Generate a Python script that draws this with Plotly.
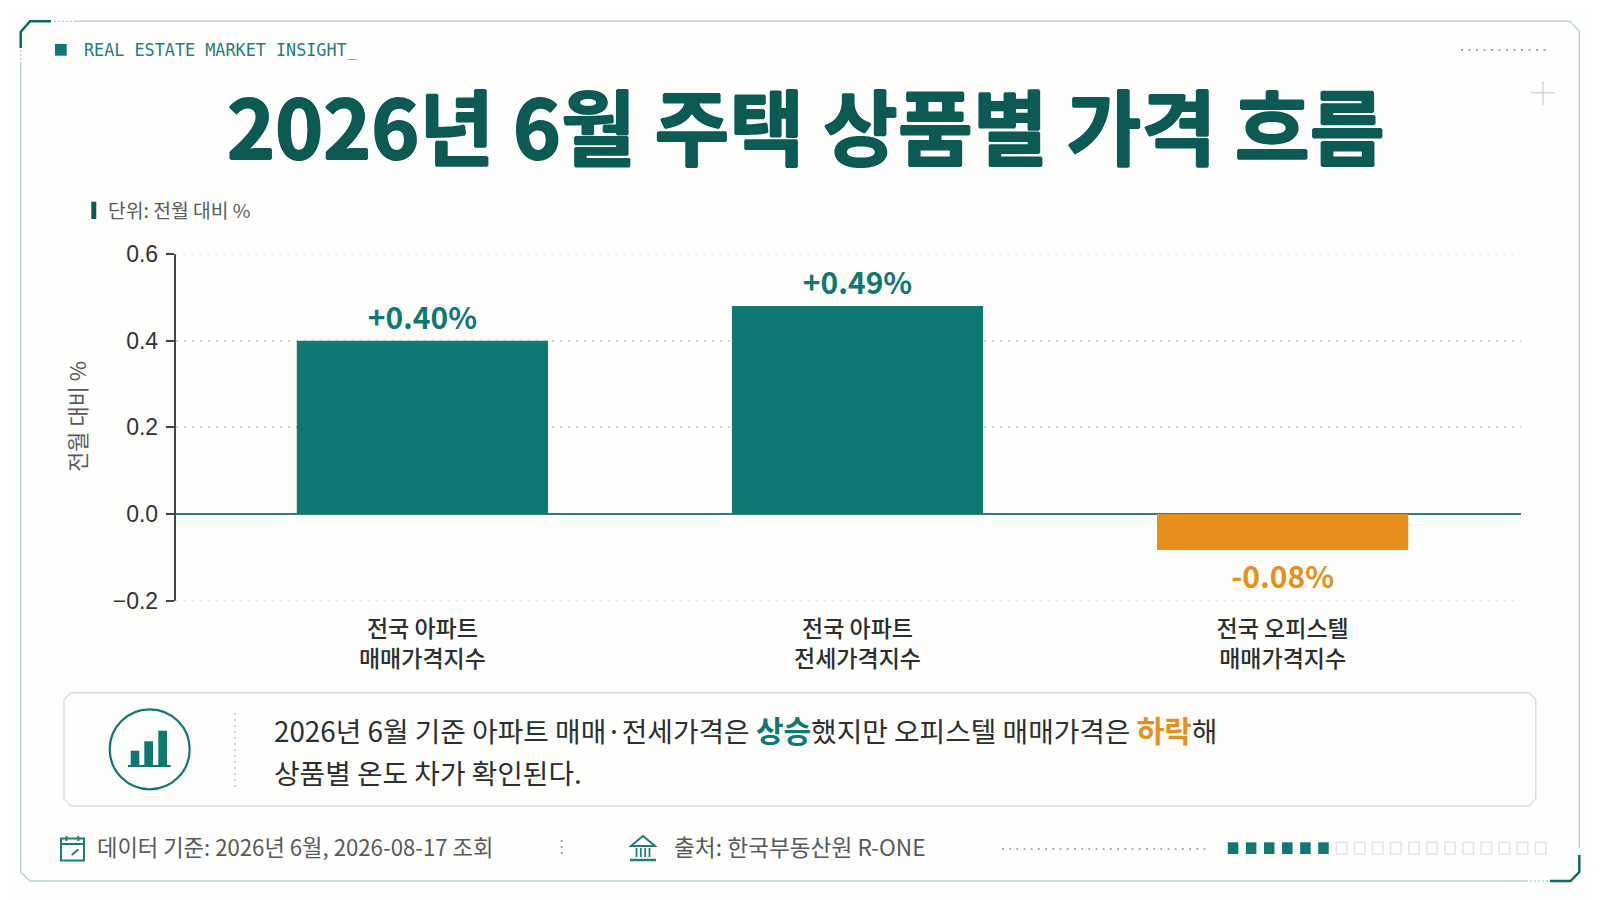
"""2026년 6월 주택 상품별 가격 흐름: 전월 대비 bar chart with a framed report layout."""
import plotly.graph_objects as go

# Data
CATEGORIES = ['전국 아파트<br>매매가격지수', '전국 아파트<br>전세가격지수', '전국 오피스텔<br>매매가격지수']
BAR_VALUES = [0.40, 0.48, -0.083]
BAR_LABELS = ['+0.40%', '+0.49%', '-0.08%']
Y_TICKS = [-0.2, 0.0, 0.2, 0.4, 0.6]

# Texts
HEADER = 'REAL ESTATE MARKET INSIGHT_'
TITLE = '2026년 6월 주택 상품별 가격 흐름'
UNIT = '단위: 전월 대비 %'
Y_TITLE = '전월 대비 %'
FOOT_DATE = '데이터 기준: 2026년 6월, 2026-08-17 조회'
FOOT_SOURCE = '출처: 한국부동산원 R-ONE'

# Styling constants
PAGE_INSET = 8  # the browser's default body margin
W, H = 1600 - PAGE_INSET, 900 - PAGE_INSET
FONT = 'Noto Sans CJK KR'
BG = '#fefefd'
TEAL = '#0f7872'
TEAL_DARK = '#0b5a54'
ORANGE = '#e68f1c'
INK = '#2b2f2f'
GRAY = '#555a5a'
FRAME = '#b7d5d1'
BOX = '#d9dddc'
GRID = '#cfd2d2'


def fx(x):
    return (x - PAGE_INSET) / W


def fy(y):
    return 1 - (y - PAGE_INSET) / H


def poly(points, close=False):
    path = 'M ' + ' L '.join(f'{fx(x):.5f},{fy(y):.5f}' for x, y in points)
    return path + (' Z' if close else '')


def line_shape(points, color, width=1.5, dash=None, close=False):
    return dict(type='path', xref='paper', yref='paper', path=poly(points, close),
                line=dict(color=color, width=width, dash=dash))


def rect_shape(x0, y0, x1, y1, fill=None, color=None, width=0):
    return dict(type='rect', xref='paper', yref='paper', x0=fx(x0), x1=fx(x1), y0=fy(y0), y1=fy(y1),
                fillcolor=fill or 'rgba(0,0,0,0)', line=dict(color=color or 'rgba(0,0,0,0)', width=width))


def label(x, y, text, size, color, anchor='left', weight=None, family=FONT, angle=0, shadow=None):
    return dict(xref='paper', yref='paper', x=fx(x), y=fy(y), text=text, showarrow=False, xanchor=anchor, yanchor='middle',
                textangle=angle, font=dict(family=family, size=size, color=color, weight=weight, shadow=shadow))


shapes = []
# outer frame with chamfered corners and the darker corner accents
shapes.append(line_shape([(20.7, 62), (20.7, 872), (30, 881), (1526, 881)], FRAME))
shapes.append(line_shape([(75, 21.3), (1570, 21.3), (1579.3, 31), (1579.3, 848)], FRAME))
shapes.append(line_shape([(54, 21.3), (75, 21.3)], FRAME, dash='2px,2px'))
shapes.append(line_shape([(20.7, 50), (20.7, 62)], FRAME, dash='2px,2px'))
shapes.append(line_shape([(1526, 881), (1548, 881)], FRAME, dash='2px,2px'))
shapes.append(line_shape([(20.7, 48), (20.7, 32), (30, 21.3), (51, 21.3)], '#0e6b64', width=2.5))
shapes.append(line_shape([(1579.3, 855), (1579.3, 872), (1570.5, 881), (1550, 881)], '#0e6b64', width=2.5))

# header decorations
shapes.append(rect_shape(55, 44, 66.7, 55.7, fill=TEAL))
shapes.append(line_shape([(1461, 50), (1550, 50)], '#7fb5b0', width=2, dash='2px,5.5px'))
shapes.append(line_shape([(1531, 92.7), (1555, 92.7)], '#d4d6d6', width=1.5))
shapes.append(line_shape([(1543, 81), (1543, 105)], '#d4d6d6', width=1.5))
shapes.append(rect_shape(91.3, 201.7, 96.3, 219, fill=TEAL_DARK))

# callout box and icon
shapes.append(line_shape([(71, 692.7), (1529, 692.7), (1535.8, 699.5), (1535.8, 799), (1529, 806), (71, 806),
                          (64, 799), (64, 699.5)], BOX, width=1.5, close=True))
shapes.append(dict(type='circle', xref='paper', yref='paper', x0=fx(109.7), x1=fx(189.7), y0=fy(709.3), y1=fy(789.3),
                   line=dict(color=TEAL, width=2.2)))
shapes.append(rect_shape(130.7, 750.7, 139.3, 765.5, fill=TEAL))
shapes.append(rect_shape(144.3, 741.3, 153, 765.5, fill=TEAL))
shapes.append(rect_shape(158.3, 730.7, 167, 765.5, fill=TEAL))
shapes.append(line_shape([(128, 766), (170.7, 766)], TEAL, width=2))
shapes.append(line_shape([(235, 713), (235, 787)], '#b9bdbd', width=1.5, dash='2px,4px'))

# footer: calendar icon
ICON = '#1f7d76'
shapes.append(rect_shape(61, 838.5, 84, 860.5, color=ICON, width=2))
shapes.append(line_shape([(61, 844), (84, 844)], ICON, width=2))
shapes.append(line_shape([(66.5, 836), (66.5, 841)], ICON, width=2))
shapes.append(line_shape([(78.3, 836), (78.3, 841)], ICON, width=2))
shapes.append(line_shape([(71.7, 855), (78.3, 849.5)], ICON, width=1.8))
# footer: bank icon
shapes.append(line_shape([(631, 846), (643, 836), (655, 846)], ICON, width=2, close=True))
for col_x in (636.5, 640.8, 645.2, 649.5):
    shapes.append(line_shape([(col_x, 848), (col_x, 857)], ICON, width=1.8))
shapes.append(line_shape([(630, 860), (656, 860)], ICON, width=2.5))
# footer: separators and progress squares
shapes.append(line_shape([(561.7, 840), (561.7, 857)], '#8fa9b0', width=2, dash='2px,4px'))
shapes.append(line_shape([(1002, 849), (1210, 849)], '#86b8b3', width=1.8, dash='1.8px,5.4px'))
for i in range(18):
    left = 1227.8 + i * 18.09
    if i < 6:
        shapes.append(rect_shape(left, 842.3, left + 10.5, 854, fill=TEAL))
    else:
        shapes.append(rect_shape(left, 842.3, left + 10.5, 854, color='#e3e5e5', width=1.5))

# plotly drops the gridlines that sit on the axis ends, so the top and bottom ones are drawn here
for tick in (Y_TICKS[0], Y_TICKS[-1]):
    shapes.append(dict(type='line', xref='x domain', yref='y', x0=0, x1=1, y0=tick, y1=tick,
                       line=dict(color=GRID, width=1.5, dash='2px,6px')))

annotations = [
    label(82.3, 50, HEADER, 16.8, '#1f7f78', family='DejaVu Sans Mono'),
    label(806, 123, f'<b>{TITLE}</b>', 81.5, TEAL_DARK, anchor='center',
          shadow='0.9px 0 0 #0b5a54, -0.9px 0 0 #0b5a54, 0 0.6px 0 #0b5a54, 0 -0.6px 0 #0b5a54'),
    label(106, 210, UNIT, 19.3, GRAY),
    label(76, 417, Y_TITLE, 22, GRAY, anchor='center', angle=-90),
    label(272, 728.7, '2026년 6월 기준 아파트 매매·전세가격은 '
          f'<b style="color:{TEAL};font-size:30px">상승</b>했지만 오피스텔 매매가격은 '
          f'<b style="color:{ORANGE};font-size:30px">하락</b>해', 27.8, INK),
    label(272, 772, '상품별 온도 차가 확인된다.', 27.8, INK),
    label(95.3, 846, FOOT_DATE, 22.2, GRAY),
    label(671.7, 846, FOOT_SOURCE, 22.7, GRAY),
]

# horizontal slots of the three bars on a numeric x axis (the middle one sits slightly off centre)
SLOTS = [0, 1.0116, 2]

fig = go.Figure()
fig.add_trace(go.Bar(
    x=SLOTS, y=BAR_VALUES, width=0.584,
    marker=dict(color=[TEAL, TEAL, ORANGE], line=dict(width=0)),
    text=BAR_LABELS, textposition='outside', cliponaxis=False, constraintext='none',
    textfont=dict(family=FONT, size=30, color=[TEAL, TEAL, ORANGE], weight=700),
    hoverinfo='skip',
))

fig.update_layout(
    width=W, height=H, margin=dict(l=0, r=0, t=0, b=0), showlegend=False,
    paper_bgcolor=BG, plot_bgcolor='rgba(0,0,0,0)', font=dict(family=FONT),
    shapes=shapes, annotations=annotations,
    xaxis=dict(domain=[fx(175.5), fx(1520.5)], range=[-0.574, 2.553], tickmode='array', tickvals=SLOTS, ticktext=CATEGORIES,
               showgrid=False, zeroline=False, showline=False, ticks='', ticklabelstandoff=12, automargin=False,
               tickfont=dict(family=FONT, size=23, color=INK, weight=500)),
    yaxis=dict(domain=[fy(600.7), fy(254)], range=[-0.2, 0.6], tickmode='array', tickvals=Y_TICKS,
               tickformat='.1f', ticks='outside', ticklen=8, tickwidth=1.5, tickcolor='#444',
               ticklabelstandoff=3, showline=True, linecolor='#444', linewidth=1.5, automargin=False,
               showgrid=True, gridcolor=GRID, griddash='2px,6px', gridwidth=1.5,
               zeroline=True, zerolinecolor='#2f7f7a', zerolinewidth=2,
               tickfont=dict(family='Liberation Sans', size=23, color='#333')),
)

fig.write_html("out.html")
